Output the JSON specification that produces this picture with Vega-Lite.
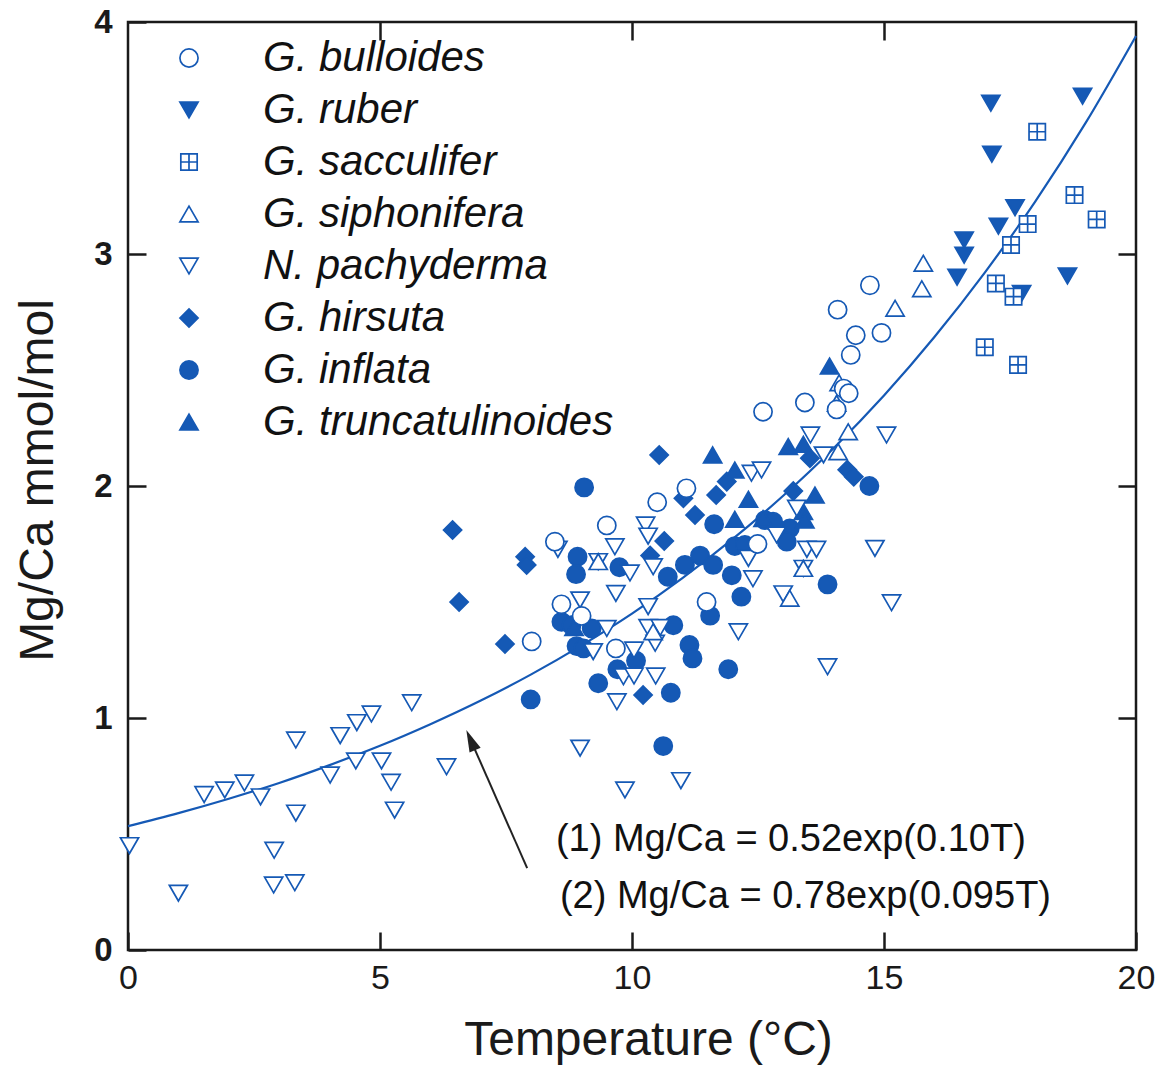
{
  "$schema": "https://vega.github.io/schema/vega-lite/v6.json",
  "autosize": {"type": "none"},
  "padding": {"left": 128, "top": 22, "right": 23, "bottom": 118},
  "width": 1008,
  "height": 928,
  "background": "white",
  "datasets": {
    "curve": [
      {"T": 0, "M": 0.534}, {"T": 1, "M": 0.59}, {"T": 2, "M": 0.652}, {"T": 3, "M": 0.72},
      {"T": 4, "M": 0.797}, {"T": 5, "M": 0.88}, {"T": 6, "M": 0.973}, {"T": 7, "M": 1.075},
      {"T": 8, "M": 1.188}, {"T": 9, "M": 1.313}, {"T": 10, "M": 1.45}, {"T": 11, "M": 1.603},
      {"T": 12, "M": 1.772}, {"T": 13, "M": 1.958}, {"T": 14, "M": 2.163}, {"T": 15, "M": 2.39},
      {"T": 16, "M": 2.642}, {"T": 17, "M": 2.92}, {"T": 18, "M": 3.226}, {"T": 19, "M": 3.565},
      {"T": 20, "M": 3.94}
    ],
    "arrow": [{"T": 7.92, "M": 0.353, "T2": 6.8, "M2": 0.905, "angle": -23.5}],
    "notes": [
      {"T": 8.49, "M": 0.474, "label": "(1) Mg/Ca = 0.52exp(0.10T)"},
      {"T": 8.57, "M": 0.228, "label": "(2) Mg/Ca = 0.78exp(0.095T)"}
    ],
    "points": [
      {"T": 17.12, "M": 3.65, "sp": "G. ruber"}, {"T": 18.94, "M": 3.68, "sp": "G. ruber"},
      {"T": 17.14, "M": 3.43, "sp": "G. ruber"}, {"T": 17.6, "M": 3.2, "sp": "G. ruber"},
      {"T": 17.27, "M": 3.12, "sp": "G. ruber"}, {"T": 16.59, "M": 3.06, "sp": "G. ruber"},
      {"T": 16.59, "M": 2.995, "sp": "G. ruber"}, {"T": 16.45, "M": 2.9, "sp": "G. ruber"},
      {"T": 18.64, "M": 2.905, "sp": "G. ruber"}, {"T": 17.73, "M": 2.83, "sp": "G. ruber"},

      {"T": 10.54, "M": 2.134, "sp": "G. hirsuta"}, {"T": 7.88, "M": 1.695, "sp": "G. hirsuta"},
      {"T": 7.91, "M": 1.66, "sp": "G. hirsuta"}, {"T": 10.64, "M": 1.763, "sp": "G. hirsuta"},
      {"T": 10.36, "M": 1.7, "sp": "G. hirsuta"}, {"T": 6.44, "M": 1.81, "sp": "G. hirsuta"},
      {"T": 6.57, "M": 1.5, "sp": "G. hirsuta"}, {"T": 7.48, "M": 1.319, "sp": "G. hirsuta"},
      {"T": 10.22, "M": 1.099, "sp": "G. hirsuta"}, {"T": 11.88, "M": 2.019, "sp": "G. hirsuta"},
      {"T": 11.67, "M": 1.961, "sp": "G. hirsuta"}, {"T": 11.02, "M": 1.947, "sp": "G. hirsuta"},
      {"T": 11.25, "M": 1.875, "sp": "G. hirsuta"}, {"T": 13.2, "M": 1.978, "sp": "G. hirsuta"},
      {"T": 13.53, "M": 2.12, "sp": "G. hirsuta"}, {"T": 14.27, "M": 2.07, "sp": "G. hirsuta"},
      {"T": 14.4, "M": 2.04, "sp": "G. hirsuta"},

      {"T": 9.05, "M": 1.994, "sp": "G. inflata"}, {"T": 8.92, "M": 1.695, "sp": "G. inflata"},
      {"T": 9.75, "M": 1.65, "sp": "G. inflata"}, {"T": 8.89, "M": 1.62, "sp": "G. inflata"},
      {"T": 10.71, "M": 1.609, "sp": "G. inflata"}, {"T": 8.6, "M": 1.415, "sp": "G. inflata"},
      {"T": 8.8, "M": 1.4, "sp": "G. inflata"}, {"T": 9.2, "M": 1.386, "sp": "G. inflata"},
      {"T": 10.82, "M": 1.4, "sp": "G. inflata"}, {"T": 8.9, "M": 1.31, "sp": "G. inflata"},
      {"T": 9.04, "M": 1.3, "sp": "G. inflata"}, {"T": 10.08, "M": 1.247, "sp": "G. inflata"},
      {"T": 9.71, "M": 1.21, "sp": "G. inflata"}, {"T": 9.33, "M": 1.15, "sp": "G. inflata"},
      {"T": 10.77, "M": 1.109, "sp": "G. inflata"}, {"T": 7.99, "M": 1.08, "sp": "G. inflata"},
      {"T": 10.62, "M": 0.879, "sp": "G. inflata"}, {"T": 11.05, "M": 1.66, "sp": "G. inflata"},
      {"T": 11.35, "M": 1.7, "sp": "G. inflata"}, {"T": 11.61, "M": 1.66, "sp": "G. inflata"},
      {"T": 11.63, "M": 1.835, "sp": "G. inflata"}, {"T": 12.04, "M": 1.741, "sp": "G. inflata"},
      {"T": 12.24, "M": 1.746, "sp": "G. inflata"}, {"T": 11.98, "M": 1.615, "sp": "G. inflata"},
      {"T": 12.17, "M": 1.523, "sp": "G. inflata"}, {"T": 11.55, "M": 1.441, "sp": "G. inflata"},
      {"T": 11.14, "M": 1.315, "sp": "G. inflata"}, {"T": 11.2, "M": 1.257, "sp": "G. inflata"},
      {"T": 11.91, "M": 1.21, "sp": "G. inflata"}, {"T": 12.64, "M": 1.853, "sp": "G. inflata"},
      {"T": 12.8, "M": 1.846, "sp": "G. inflata"}, {"T": 13.13, "M": 1.817, "sp": "G. inflata"},
      {"T": 13.07, "M": 1.76, "sp": "G. inflata"}, {"T": 13.88, "M": 1.576, "sp": "G. inflata"},
      {"T": 14.71, "M": 2.0, "sp": "G. inflata"},

      {"T": 11.6, "M": 2.134, "sp": "G. truncatulinoides"}, {"T": 13.1, "M": 2.17, "sp": "G. truncatulinoides"},
      {"T": 13.4, "M": 2.18, "sp": "G. truncatulinoides"}, {"T": 12.04, "M": 2.069, "sp": "G. truncatulinoides"},
      {"T": 12.31, "M": 1.943, "sp": "G. truncatulinoides"}, {"T": 13.63, "M": 1.961, "sp": "G. truncatulinoides"},
      {"T": 12.04, "M": 1.856, "sp": "G. truncatulinoides"}, {"T": 13.4, "M": 1.89, "sp": "G. truncatulinoides"},
      {"T": 13.43, "M": 1.853, "sp": "G. truncatulinoides"}, {"T": 12.6, "M": 1.86, "sp": "G. truncatulinoides"},
      {"T": 13.92, "M": 2.517, "sp": "G. truncatulinoides"}, {"T": 8.85, "M": 1.39, "sp": "G. truncatulinoides"},

      {"T": 0.03, "M": 0.45, "sp": "N. pachyderma"}, {"T": 1.0, "M": 0.245, "sp": "N. pachyderma"},
      {"T": 1.51, "M": 0.67, "sp": "N. pachyderma"}, {"T": 1.92, "M": 0.69, "sp": "N. pachyderma"},
      {"T": 2.31, "M": 0.72, "sp": "N. pachyderma"}, {"T": 2.63, "M": 0.66, "sp": "N. pachyderma"},
      {"T": 3.33, "M": 0.905, "sp": "N. pachyderma"}, {"T": 3.33, "M": 0.59, "sp": "N. pachyderma"},
      {"T": 2.9, "M": 0.43, "sp": "N. pachyderma"}, {"T": 2.89, "M": 0.28, "sp": "N. pachyderma"},
      {"T": 3.31, "M": 0.29, "sp": "N. pachyderma"}, {"T": 4.01, "M": 0.754, "sp": "N. pachyderma"},
      {"T": 4.21, "M": 0.924, "sp": "N. pachyderma"}, {"T": 4.54, "M": 0.98, "sp": "N. pachyderma"},
      {"T": 4.83, "M": 1.017, "sp": "N. pachyderma"}, {"T": 5.63, "M": 1.066, "sp": "N. pachyderma"},
      {"T": 4.52, "M": 0.815, "sp": "N. pachyderma"}, {"T": 5.03, "M": 0.815, "sp": "N. pachyderma"},
      {"T": 5.22, "M": 0.723, "sp": "N. pachyderma"}, {"T": 5.29, "M": 0.603, "sp": "N. pachyderma"},
      {"T": 6.32, "M": 0.79, "sp": "N. pachyderma"}, {"T": 8.97, "M": 0.87, "sp": "N. pachyderma"},
      {"T": 9.86, "M": 0.69, "sp": "N. pachyderma"}, {"T": 10.97, "M": 0.73, "sp": "N. pachyderma"},
      {"T": 8.53, "M": 1.727, "sp": "N. pachyderma"}, {"T": 9.66, "M": 1.738, "sp": "N. pachyderma"},
      {"T": 10.27, "M": 1.832, "sp": "N. pachyderma"}, {"T": 10.32, "M": 1.784, "sp": "N. pachyderma"},
      {"T": 9.33, "M": 1.674, "sp": "N. pachyderma"}, {"T": 9.96, "M": 1.625, "sp": "N. pachyderma"},
      {"T": 10.42, "M": 1.652, "sp": "N. pachyderma"}, {"T": 9.68, "M": 1.537, "sp": "N. pachyderma"},
      {"T": 8.97, "M": 1.509, "sp": "N. pachyderma"}, {"T": 10.32, "M": 1.48, "sp": "N. pachyderma"},
      {"T": 9.5, "M": 1.386, "sp": "N. pachyderma"}, {"T": 10.32, "M": 1.39, "sp": "N. pachyderma"},
      {"T": 10.56, "M": 1.39, "sp": "N. pachyderma"}, {"T": 9.23, "M": 1.286, "sp": "N. pachyderma"},
      {"T": 10.46, "M": 1.322, "sp": "N. pachyderma"}, {"T": 10.04, "M": 1.293, "sp": "N. pachyderma"},
      {"T": 9.83, "M": 1.178, "sp": "N. pachyderma"}, {"T": 10.04, "M": 1.181, "sp": "N. pachyderma"},
      {"T": 10.47, "M": 1.181, "sp": "N. pachyderma"}, {"T": 9.7, "M": 1.07, "sp": "N. pachyderma"},
      {"T": 13.54, "M": 2.22, "sp": "N. pachyderma"}, {"T": 13.8, "M": 2.134, "sp": "N. pachyderma"},
      {"T": 12.37, "M": 2.055, "sp": "N. pachyderma"}, {"T": 12.57, "M": 2.069, "sp": "N. pachyderma"},
      {"T": 13.27, "M": 1.904, "sp": "N. pachyderma"}, {"T": 12.87, "M": 1.789, "sp": "N. pachyderma"},
      {"T": 13.47, "M": 1.727, "sp": "N. pachyderma"}, {"T": 13.66, "M": 1.727, "sp": "N. pachyderma"},
      {"T": 14.82, "M": 1.731, "sp": "N. pachyderma"}, {"T": 12.31, "M": 1.688, "sp": "N. pachyderma"},
      {"T": 13.4, "M": 1.645, "sp": "N. pachyderma"}, {"T": 12.4, "M": 1.6, "sp": "N. pachyderma"},
      {"T": 13.0, "M": 1.535, "sp": "N. pachyderma"}, {"T": 12.11, "M": 1.372, "sp": "N. pachyderma"},
      {"T": 13.88, "M": 1.221, "sp": "N. pachyderma"}, {"T": 15.05, "M": 2.22, "sp": "N. pachyderma"},
      {"T": 15.15, "M": 1.497, "sp": "N. pachyderma"},

      {"T": 15.78, "M": 2.96, "sp": "G. siphonifera"}, {"T": 15.75, "M": 2.85, "sp": "G. siphonifera"},
      {"T": 15.22, "M": 2.766, "sp": "G. siphonifera"}, {"T": 14.11, "M": 2.445, "sp": "G. siphonifera"},
      {"T": 14.06, "M": 2.356, "sp": "G. siphonifera"}, {"T": 14.29, "M": 2.234, "sp": "G. siphonifera"},
      {"T": 14.09, "M": 2.148, "sp": "G. siphonifera"}, {"T": 9.33, "M": 1.674, "sp": "G. siphonifera"},
      {"T": 13.4, "M": 1.645, "sp": "G. siphonifera"}, {"T": 13.13, "M": 1.516, "sp": "G. siphonifera"},
      {"T": 10.42, "M": 1.372, "sp": "G. siphonifera"},

      {"T": 18.04, "M": 3.527, "sp": "G. sacculifer"}, {"T": 18.78, "M": 3.254, "sp": "G. sacculifer"},
      {"T": 19.22, "M": 3.149, "sp": "G. sacculifer"}, {"T": 17.85, "M": 3.129, "sp": "G. sacculifer"},
      {"T": 17.52, "M": 3.039, "sp": "G. sacculifer"}, {"T": 17.22, "M": 2.873, "sp": "G. sacculifer"},
      {"T": 17.57, "M": 2.816, "sp": "G. sacculifer"}, {"T": 17.0, "M": 2.598, "sp": "G. sacculifer"},
      {"T": 17.66, "M": 2.522, "sp": "G. sacculifer"},

      {"T": 8.47, "M": 1.76, "sp": "G. bulloides"}, {"T": 8.6, "M": 1.49, "sp": "G. bulloides"},
      {"T": 9.0, "M": 1.44, "sp": "G. bulloides"}, {"T": 8.01, "M": 1.33, "sp": "G. bulloides"},
      {"T": 9.5, "M": 1.83, "sp": "G. bulloides"}, {"T": 10.5, "M": 1.93, "sp": "G. bulloides"},
      {"T": 11.08, "M": 1.99, "sp": "G. bulloides"}, {"T": 9.68, "M": 1.3, "sp": "G. bulloides"},
      {"T": 11.48, "M": 1.5, "sp": "G. bulloides"}, {"T": 12.49, "M": 1.75, "sp": "G. bulloides"},
      {"T": 12.6, "M": 2.32, "sp": "G. bulloides"}, {"T": 13.43, "M": 2.36, "sp": "G. bulloides"},
      {"T": 14.06, "M": 2.33, "sp": "G. bulloides"}, {"T": 14.2, "M": 2.42, "sp": "G. bulloides"},
      {"T": 14.3, "M": 2.4, "sp": "G. bulloides"}, {"T": 14.34, "M": 2.565, "sp": "G. bulloides"},
      {"T": 14.44, "M": 2.65, "sp": "G. bulloides"}, {"T": 14.95, "M": 2.66, "sp": "G. bulloides"},
      {"T": 14.08, "M": 2.76, "sp": "G. bulloides"}, {"T": 14.72, "M": 2.865, "sp": "G. bulloides"}
    ]
  },
  "layer": [
    {
      "data": {"name": "curve"},
      "mark": {"type": "line", "color": "#1559b5", "strokeWidth": 2.2, "interpolate": "monotone"},
      "encoding": {
        "x": {"field": "T", "type": "quantitative", "scale": {"domain": [0, 20], "nice": false},
          "axis": {"orient": "bottom", "values": [0, 5, 10, 15, 20], "tickSize": -18, "labelPadding": 29, "labelFlush": false,
            "labelFont": "Liberation Sans, Arial, sans-serif", "labelFontSize": 34,
            "title": "Temperature (°C)", "titleFont": "Liberation Sans, Arial, sans-serif",
            "titleFontSize": 48, "titleFontWeight": "normal", "titleX": 520, "titleY": 90,
            "titleBaseline": "middle", "titleAlign": "center"}},
        "y": {"field": "M", "type": "quantitative", "scale": {"domain": [0, 4], "nice": false},
          "axis": {"orient": "left", "values": [0, 1, 2, 3, 4], "tickSize": -18, "labelPadding": 34, "labelFlush": false,
            "labelFont": "Liberation Sans, Arial, sans-serif", "labelFontSize": 33, "labelFontWeight": "bold",
            "title": "Mg/Ca mmol/mol", "titleFont": "Liberation Sans, Arial, sans-serif",
            "titleFontSize": 48, "titleFontWeight": "normal", "titleX": -90, "titleY": 458, "titleAngle": -90,
            "titleBaseline": "middle", "titleAlign": "center"}}
      }
    },
    {
      "data": {"name": "points"},
      "mark": {"type": "point", "filled": false, "strokeWidth": 1.7, "size": 330, "opacity": 1, "fillOpacity": 1, "strokeOpacity": 1},
      "encoding": {
        "x": {"field": "T", "type": "quantitative",
          "axis": {"orient": "top", "values": [5, 10, 15], "tickSize": -18, "labels": false, "title": null}},
        "y": {"field": "M", "type": "quantitative",
          "axis": {"orient": "right", "values": [1, 2, 3], "tickSize": -18, "labels": false, "title": null}},
        "stroke": {"field": "sp", "type": "nominal",
          "scale": {"domain": ["G. bulloides", "G. ruber", "G. sacculifer", "G. siphonifera", "N. pachyderma", "G. hirsuta", "G. inflata", "G. truncatulinoides"],
            "range": ["#1559b5", "#1559b5", "#1559b5", "#1559b5", "#1559b5", "#1559b5", "#1559b5", "#1559b5"]},
          "legend": {"orient": "none", "legendX": 40, "legendY": 15, "title": null, "padding": 0,
            "labelFont": "Liberation Sans, Arial, sans-serif", "labelFontStyle": "italic", "labelFontSize": 42,
            "labelColor": "#111", "labelOffset": 53, "rowPadding": 10, "symbolSize": 330,
            "symbolStrokeWidth": 1.7, "labelLimit": 600}},
        "shape": {"field": "sp", "type": "nominal",
          "scale": {"domain": ["G. bulloides", "G. ruber", "G. sacculifer", "G. siphonifera", "N. pachyderma", "G. hirsuta", "G. inflata", "G. truncatulinoides"],
            "range": ["circle", "triangle-down", "M-0.9,-0.9H0.9V0.9H-0.9Z M0,-0.9V0.9 M-0.9,0H0.9", "triangle-up", "triangle-down", "diamond", "circle", "triangle-up"]},
          "legend": {"orient": "none", "legendX": 40, "legendY": 15, "title": null, "padding": 0,
            "labelFont": "Liberation Sans, Arial, sans-serif", "labelFontStyle": "italic", "labelFontSize": 42,
            "labelColor": "#111", "labelOffset": 53, "rowPadding": 10, "symbolSize": 330,
            "symbolStrokeWidth": 1.7, "labelLimit": 600}},
        "fill": {"field": "sp", "type": "nominal",
          "scale": {"domain": ["G. bulloides", "G. ruber", "G. sacculifer", "G. siphonifera", "N. pachyderma", "G. hirsuta", "G. inflata", "G. truncatulinoides"],
            "range": ["white", "#1559b5", "white", "white", "white", "#1559b5", "#1559b5", "#1559b5"]},
          "legend": {"orient": "none", "legendX": 40, "legendY": 15, "title": null, "padding": 0,
            "labelFont": "Liberation Sans, Arial, sans-serif", "labelFontStyle": "italic", "labelFontSize": 42,
            "labelColor": "#111", "labelOffset": 53, "rowPadding": 10, "symbolSize": 330,
            "symbolStrokeWidth": 1.7, "labelLimit": 600}}
      }
    },
    {
      "data": {"name": "arrow"},
      "mark": {"type": "rule", "color": "#222", "strokeWidth": 2},
      "encoding": {
        "x": {"field": "T", "type": "quantitative", "axis": null},
        "y": {"field": "M", "type": "quantitative", "axis": null},
        "x2": {"field": "T2"},
        "y2": {"field": "M2"}
      }
    },
    {
      "data": {"name": "arrow"},
      "mark": {"type": "point", "shape": "M0,-1L-0.55,1L0.55,1Z", "filled": true, "color": "#222", "size": 484, "opacity": 1},
      "encoding": {
        "x": {"field": "T2", "type": "quantitative", "axis": null},
        "y": {"field": "M2", "type": "quantitative", "axis": null},
        "angle": {"field": "angle", "type": "quantitative", "scale": null}
      }
    },
    {
      "data": {"name": "notes"},
      "mark": {"type": "text", "align": "left", "baseline": "middle", "font": "Liberation Sans, Arial, sans-serif", "fontSize": 38, "color": "#111"},
      "encoding": {
        "x": {"field": "T", "type": "quantitative", "axis": null},
        "y": {"field": "M", "type": "quantitative", "axis": null},
        "text": {"field": "label"}
      }
    }
  ],
  "resolve": {"axis": {"x": "independent", "y": "independent"}},
  "config": {
    "view": {"stroke": "#1a1a1a", "strokeWidth": 2.5},
    "axis": {"grid": false, "domain": false, "ticks": true, "tickColor": "#1a1a1a", "tickWidth": 2.5, "labelColor": "#1a1a1a", "titleColor": "#1a1a1a"}
  }
}
